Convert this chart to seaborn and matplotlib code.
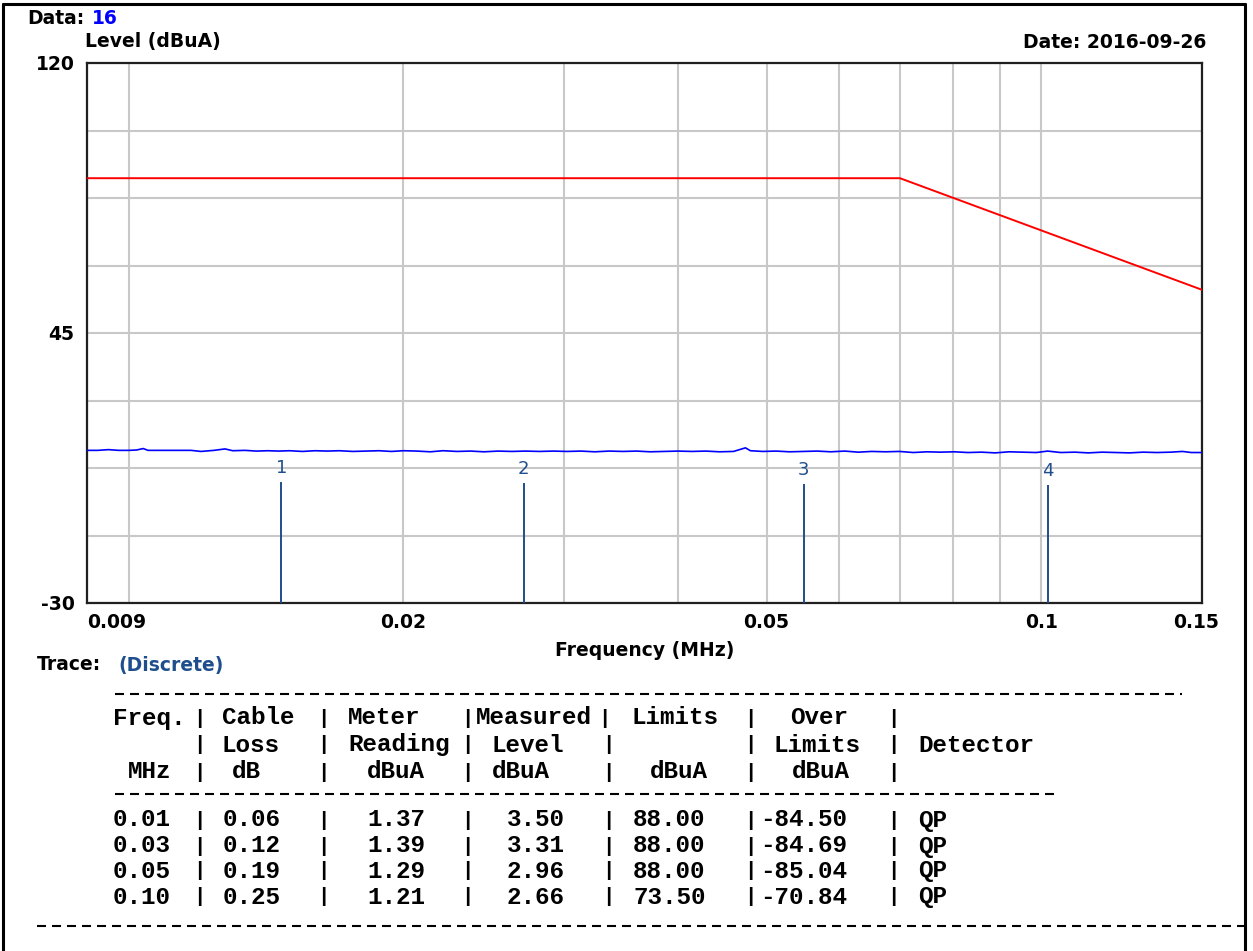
import matplotlib
matplotlib.use("Agg")
import matplotlib.pyplot as plt
from matplotlib.lines import Line2D
from matplotlib.ticker import NullFormatter, FixedLocator
from matplotlib.transforms import ScaledTranslation
import seaborn as sns
import pandas as pd

# ---------------- data ----------------
trace_freq = [
    0.00900, 0.00925, 0.00950, 0.00975, 0.01000, 0.01020, 0.01037, 0.01050, 0.01080, 0.01110,
    0.01140, 0.01170, 0.01200, 0.01240, 0.01275, 0.01300, 0.01340, 0.01380, 0.01420, 0.01460,
    0.01500, 0.01550, 0.01600, 0.01650, 0.01700, 0.01760, 0.01820, 0.01880, 0.01940, 0.02000,
    0.02070, 0.02140, 0.02210, 0.02290, 0.02370, 0.02450, 0.02540, 0.02630, 0.02720, 0.02820,
    0.02920, 0.03020, 0.03130, 0.03240, 0.03360, 0.03480, 0.03600, 0.03730, 0.03860, 0.04000,
    0.04140, 0.04290, 0.04440, 0.04600, 0.04740, 0.04800, 0.04950, 0.05120, 0.05300, 0.05490,
    0.05680, 0.05880, 0.06090, 0.06300, 0.06520, 0.06750, 0.06990, 0.07240, 0.07490, 0.07750,
    0.08030, 0.08310, 0.08600, 0.08900, 0.09220, 0.09540, 0.09880, 0.10160, 0.10500, 0.10880,
    0.11260, 0.11660, 0.12070, 0.12490, 0.12930, 0.13390, 0.13860, 0.14280, 0.14600, 0.15000,
]
trace_level = [
    12.4, 12.4, 12.6, 12.4, 12.4, 12.5, 12.9, 12.4, 12.4, 12.4,
    12.4, 12.4, 12.1, 12.4, 12.8, 12.3, 12.4, 12.2, 12.3, 12.2,
    12.3, 12.1, 12.3, 12.2, 12.3, 12.1, 12.2, 12.3, 12.1, 12.3,
    12.2, 12.0, 12.3, 12.1, 12.2, 12.0, 12.2, 12.1, 12.2, 12.1,
    12.2, 12.1, 12.2, 12.0, 12.2, 12.1, 12.2, 12.0, 12.1, 12.2,
    12.1, 12.2, 12.0, 12.1, 13.1, 12.3, 12.1, 12.2, 12.0, 12.1,
    12.2, 12.0, 12.2, 11.9, 12.1, 12.0, 12.1, 11.8, 12.0, 11.9,
    12.0, 11.8, 11.9, 11.7, 12.0, 11.9, 11.8, 12.2, 11.8, 11.9,
    11.7, 11.9, 11.8, 11.7, 11.9, 11.8, 11.9, 12.1, 11.8, 11.8,
]
limit_freq = [0.009, 0.07, 0.15]
limit_level = [88.0, 88.0, 57.0]

marker_freq = [0.0147, 0.0271, 0.0549, 0.1016]
cable_loss = [0.06, 0.12, 0.19, 0.25]
meter_reading = [1.37, 1.39, 1.29, 1.21]
measured_level = [3.50, 3.31, 2.96, 2.66]
limits = [88.00, 88.00, 88.00, 73.50]
detector = ["QP", "QP", "QP", "QP"]

x_ticks = [0.009, 0.02, 0.05, 0.1, 0.15]
x_ticklabels = ["0.009", "0.02", "0.05", "0.1", "0.15"]
x_grid = [0.01, 0.03, 0.04, 0.06, 0.07, 0.08, 0.09]
y_ticks = [-30, 45, 120]
y_grid = [-11.25, 7.5, 26.25, 63.75, 82.5, 101.25]

# ---------------- style ----------------
sns.set_theme(style="white")
plt.rcParams["font.family"] = ["DejaVu Sans"]
plt.rcParams["lines.scale_dashes"] = False
plt.rcParams["axes.unicode_minus"] = False
plt.rcParams["text.color"] = "black"
plt.rcParams["xtick.color"] = "black"
plt.rcParams["ytick.color"] = "black"
plt.rcParams["axes.labelcolor"] = "black"

W, H = 1253, 951
fig = plt.figure(figsize=(W / 100, H / 100), dpi=100)
fig.patch.set_facecolor("white")


def fx(x):
    return x / W


def fy(y):
    return 1 - y / H


ax = fig.add_axes([fx(87), fy(603), (1202 - 87) / W, (603 - 63) / H])
ax.set_facecolor("white")

trace_df = pd.DataFrame({"freq": trace_freq, "level": trace_level})
limit_df = pd.DataFrame({"freq": limit_freq, "level": limit_level})

sns.lineplot(data=limit_df, x="freq", y="level", ax=ax, color="#ff0000",
             linewidth=1.4, zorder=4)
sns.lineplot(data=trace_df, x="freq", y="level", ax=ax, color="#0000ff",
             linewidth=1.2, zorder=4)

ax.vlines(marker_freq, -30, measured_level, color="#1f4e8c", linewidth=1.4, zorder=5)
for i, (f, lv) in enumerate(zip(marker_freq, measured_level)):
    ax.text(f, lv + 4.0, str(i + 1), ha="center", va="center", color="#1f4e8c",
            fontsize=13, zorder=6)

ax.set_xscale("log")
ax.set_xlim(0.009, 0.15)
ax.set_ylim(-30, 120)

ax.xaxis.set_major_locator(FixedLocator(x_ticks))
ax.xaxis.set_minor_locator(FixedLocator(x_grid))
ax.set_xticklabels(x_ticklabels)
ax.xaxis.set_minor_formatter(NullFormatter())
ax.set_yticks(y_ticks)
ax.yaxis.set_minor_locator(FixedLocator(y_grid))
ax.yaxis.set_minor_formatter(NullFormatter())

fs = 13.5
ax.grid(True, which="both", color="#c8c8c8", linewidth=1.5, zorder=0)
ax.set_axisbelow(True)
ax.tick_params(axis="both", which="both", length=0, labelcolor="black")
ax.tick_params(axis="x", pad=7, labelsize=fs)
ax.tick_params(axis="y", pad=9, labelsize=fs)
for lab in ax.get_xticklabels() + ax.get_yticklabels():
    lab.set_fontweight("bold")
xl = ax.get_xticklabels()
xl[0].set_horizontalalignment("left")
xl[-1].set_transform(xl[-1].get_transform() + ScaledTranslation(-0.06, 0, fig.dpi_scale_trans))
ax.set_xlabel("")
ax.set_ylabel("")
for s in ax.spines.values():
    s.set_color("#202020")
    s.set_linewidth(1.6)
    s.set_visible(True)

# ---------------- surrounding texts ----------------
fig.text(fx(27), fy(19), "Data:", fontsize=fs, fontweight="bold", va="center", ha="left")
fig.text(fx(92), fy(19), "16", fontsize=fs, fontweight="bold", va="center", ha="left",
         color="#0000ff")
fig.text(fx(85), fy(42), "Level (dBuA)", fontsize=fs, fontweight="bold", va="center", ha="left")
fig.text(fx(1206), fy(42), "Date: 2016-09-26", fontsize=fs, fontweight="bold",
         va="center", ha="right")
fig.text(fx(645), fy(650), "Frequency (MHz)", fontsize=fs, fontweight="bold",
         va="center", ha="center")
fig.text(fx(37), fy(665), "Trace:", fontsize=fs, fontweight="bold", va="center", ha="left")
fig.text(fx(118), fy(665), "(Discrete)", fontsize=fs, fontweight="bold", va="center",
         ha="left", color="#1f4e8c")

# ---------------- table ----------------
mono = dict(family=["Liberation Mono", "DejaVu Sans Mono"], fontsize=17.5,
            fontweight="bold", va="center", ha="left", color="black")
bar_kw = dict(family=["Liberation Mono", "DejaVu Sans Mono"], fontsize=15,
              fontweight="bold", va="center", ha="center", color="black")


def dashed(x0, x1, y):
    fig.add_artist(Line2D([fx(x0), fx(x1)], [fy(y), fy(y)], transform=fig.transFigure,
                          color="black", linewidth=1.5, linestyle=(0, (6.5, 4.3))))


dashed(115, 1182, 694)
dashed(115, 1058, 794)
dashed(37, 1245, 926)

header_rows = [
    (718, [(113, "Freq."), (222, "Cable"), (348, "Meter"), (476, "Measured"),
           (632, "Limits"), (790, "Over")], [199, 323, 467, 604, 750, 893]),
    (745, [(222, "Loss"), (348, "Reading"), (492, "Level"), (773, "Limits"),
           (918, "Detector")], [199, 323, 467, 608, 750, 893]),
    (772, [(128, "MHz"), (232, "dB"), (367, "dBuA"), (492, "dBuA"), (650, "dBuA"),
           (792, "dBuA")], [199, 323, 467, 608, 750, 893]),
]
for y, cells, bars in header_rows:
    for x, t in cells:
        fig.text(fx(x), fy(y), t, **mono)
    for bx in bars:
        fig.text(fx(bx), fy(y), "|", **bar_kw)

row_y = [820, 846, 871, 897]
for k, y in enumerate(row_y):
    over = measured_level[k] - limits[k]
    cells = [(113, f"{marker_freq[k]:.2f}"), (223, f"{cable_loss[k]:.2f}"),
             (367, f"{meter_reading[k]:.2f}"), (507, f"{measured_level[k]:.2f}"),
             (633, f"{limits[k]:.2f}"), (760, f"{over:.2f}"), (918, detector[k])]
    for x, t in cells:
        fig.text(fx(x), fy(y), t, **mono)
    for bx in [199, 323, 467, 608, 750, 893]:
        fig.text(fx(bx), fy(y), "|", **bar_kw)

# ---------------- outer frame ----------------
for xs, ys in [((3, 3), (4, 951)), ((3, 1245), (4, 4)), ((1245, 1245), (4, 951))]:
    fig.add_artist(Line2D([fx(xs[0]), fx(xs[1])], [fy(ys[0]), fy(ys[1])],
                          transform=fig.transFigure, color="black", linewidth=2.2))

fig.savefig("out.png", dpi=100, facecolor="white")
